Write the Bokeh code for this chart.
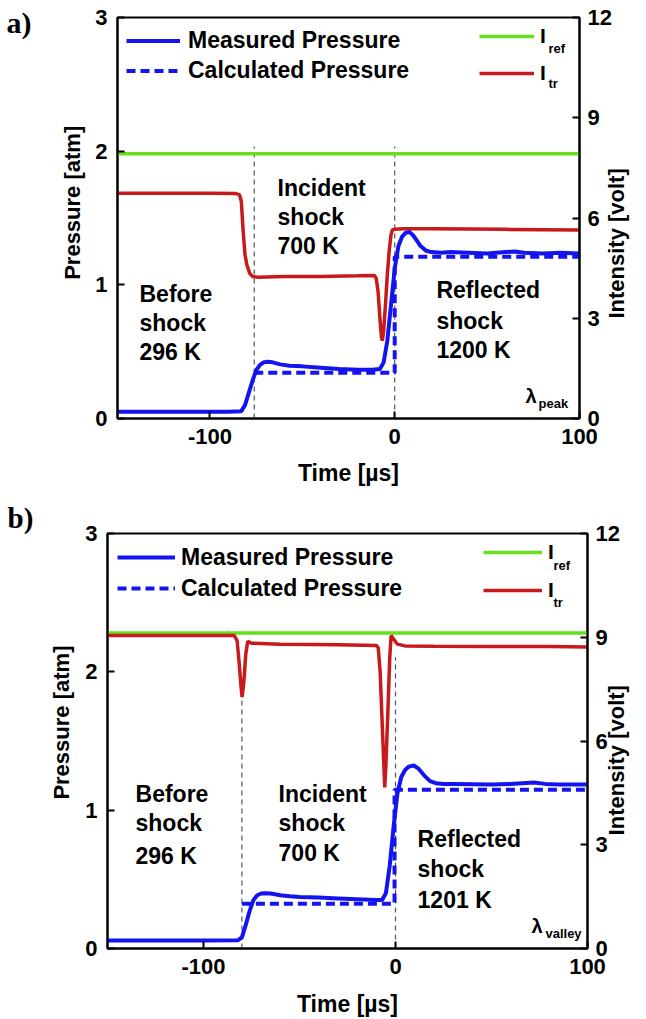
import math
from bokeh.plotting import figure
from bokeh.models import (Range1d, LinearAxis, FixedTicker, Label, Legend, LegendItem)
from bokeh.layouts import column
from bokeh.embed import file_html
from bokeh.resources import INLINE

FONT = "Liberation Sans"
SERIF = "Liberation Serif"
BLUE = "#1414f0"
RED = "#c81a1a"
GREEN = "#66e01e"

# ---------------- Panel a data ----------------
a_meas_t = [-150, -120, -90, -83, -81, -79, -77, -75, -73, -71, -69, -66, -62, -57, -50, -40,
            -30, -20, -12, -8, -6, -4, -2, 0, 2, 4, 6, 8, 10, 12, 14, 17, 20, 25, 30, 40, 50,
            60, 65, 70, 80, 90, 100]
a_meas_p = [0.05, 0.05, 0.05, 0.055, 0.10, 0.19, 0.28, 0.36, 0.40, 0.42, 0.425, 0.42, 0.405,
            0.395, 0.39, 0.38, 0.37, 0.365, 0.365, 0.37, 0.42, 0.58, 0.85, 1.12, 1.29, 1.36,
            1.39, 1.395, 1.37, 1.33, 1.29, 1.255, 1.245, 1.24, 1.245, 1.24, 1.235, 1.245, 1.25,
            1.24, 1.235, 1.24, 1.235]
a_calc_t = [-76, 0, 0, 100]
a_calc_p = [0.342, 0.342, 1.21, 1.21]
a_tr_t = [-150, -120, -100, -86, -84, -83, -82, -81, -80, -78.5, -77, -74, -60, -40, -20, -11,
          -10, -9, -8, -7.2, -6.7, -6, -5, -4, -3, -2, -1.2, 0, 5, 20, 40, 60, 80, 100]
a_tr_v = [6.74, 6.74, 6.74, 6.73, 6.70, 6.50, 5.6, 4.9, 4.6, 4.35, 4.25, 4.23, 4.25, 4.25, 4.27,
          4.28, 4.2, 3.8, 3.0, 2.45, 2.33, 2.6, 3.4, 4.3, 5.0, 5.5, 5.65, 5.66, 5.68, 5.68,
          5.67, 5.66, 5.65, 5.64]
a_ref_t = [-150, -50, 50, 100]
a_ref_v = [7.92, 7.92, 7.92, 7.92]
a_shock_t = [-76, 0]
a_shock_top = [2.035, 2.035]

# ---------------- Panel b data ----------------
b_meas_t = [-150, -120, -100, -82, -80, -78, -76, -74, -72, -70, -68, -65, -60, -55, -50, -40,
            -30, -20, -10, -7, -5, -3, -1, 1, 3, 5, 7, 9.5, 12, 15, 18, 21, 25, 30, 40, 50, 60,
            66, 72, 78, 85, 100]
b_meas_p = [0.058, 0.058, 0.058, 0.06, 0.08, 0.17, 0.27, 0.35, 0.385, 0.398, 0.40, 0.398, 0.385,
            0.378, 0.372, 0.368, 0.362, 0.356, 0.35, 0.35, 0.40, 0.60, 0.88, 1.12, 1.24, 1.29,
            1.315, 1.323, 1.30, 1.25, 1.21, 1.195, 1.19, 1.19, 1.188, 1.185, 1.19, 1.195, 1.20,
            1.19, 1.185, 1.185]
b_calc_t = [-80, -0.5, -0.5, 100]
b_calc_p = [0.323, 0.323, 1.147, 1.147]
b_tr_t = [-150, -120, -100, -84, -82.5, -81.5, -80.5, -79.9, -79, -78, -77, -75, -60, -30, -10,
          -9, -8, -7, -6, -5.6, -5, -4, -3, -2.3, -1, 1, 5, 20, 50, 80, 100]
b_tr_v = [9.05, 9.05, 9.05, 9.05, 8.9, 8.3, 7.6, 7.27, 7.7, 8.5, 8.88, 8.83, 8.8, 8.78, 8.76,
          8.7, 8.0, 6.6, 5.2, 4.66, 5.3, 6.8, 8.4, 9.05, 8.95, 8.8, 8.75, 8.74, 8.73, 8.73, 8.72]
b_ref_t = [-150, -50, 50, 100]
b_ref_v = [9.12, 9.12, 9.12, 9.12]
b_shock_t = [-80, 0]
b_shock_top = [1.80, 2.106]

x_ticks = [-100, 0, 100]
x_tick_labels = {-100: "-100", 0: "0", 100: "100"}
p_ticks = [0, 1, 2, 3]
i_ticks = [0, 3, 6, 9, 12]


def style_axis(ax, ticks, standoff, size="22px", font=FONT, minor=None):
    ax.ticker = FixedTicker(ticks=ticks, minor_ticks=minor or [])
    ax.major_tick_in = 7
    ax.major_tick_out = 0
    ax.minor_tick_in = 7
    ax.minor_tick_out = 0
    ax.minor_tick_line_width = 2
    ax.minor_tick_line_color = "black" if minor else None
    ax.axis_line_width = 2
    ax.axis_line_color = "black"
    ax.major_tick_line_width = 2
    ax.major_tick_line_color = "black"
    ax.major_label_text_font = font
    ax.major_label_text_font_style = "bold"
    ax.major_label_text_font_size = size
    ax.major_label_text_color = "black"
    ax.major_label_standoff = standoff
    ax.axis_label_text_font = FONT
    ax.axis_label_text_font_style = "bold"
    ax.axis_label_text_font_size = "23px"
    ax.axis_label_text_color = "black"


def text_axis(p, side, pos, text, standoff, rotate=True, size="22px", font=FONT):
    """An axis without line or tick that carries one text at a chosen place."""
    ax = LinearAxis()
    style_axis(ax, [pos], standoff, size=size, font=font)
    ax.major_label_overrides = {pos: text}
    if rotate:
        ax.major_label_orientation = math.pi / 2
    ax.axis_line_color = None
    ax.major_tick_line_color = None
    p.add_layout(ax, side)


def add_label(p, x, y, text, size="23px", font=FONT, align="left", baseline="middle"):
    p.add_layout(Label(x=x, y=y, text=text, text_font=font, text_font_size=size,
                       text_font_style="bold", text_align=align, text_baseline=baseline,
                       text_color="black"))


def make_panel(cfg):
    p = figure(width=646, height=cfg["height"], x_range=Range1d(-150, 100),
               y_range=Range1d(0, 3), output_backend="svg", toolbar_location=None,
               min_border_left=cfg["bl"], min_border_right=cfg["br"],
               min_border_top=cfg["bt"], min_border_bottom=cfg["bb"])
    if "frame_align" in p.properties():
        p.frame_align = False
    p.extra_y_ranges = {"int": Range1d(0, 12)}
    p.xgrid.visible = False
    p.ygrid.visible = False
    p.outline_line_color = "black"
    p.outline_line_width = 2
    p.background_fill_color = "white"
    p.border_fill_color = "white"

    style_axis(p.xaxis[0], x_ticks, 10)
    p.xaxis[0].major_label_overrides = x_tick_labels
    p.xaxis[0].axis_label = "Time [µs]"
    p.xaxis[0].axis_label_standoff = cfg["time_standoff"]
    style_axis(p.yaxis[0], p_ticks, 10)
    text_axis(p, "left", cfg["p_label_y"], "Pressure [atm]", cfg["p_standoff"])

    # right side: inner axis = line + tick marks + rotated title; outer axis = numbers only
    r_in = LinearAxis(y_range_name="int")
    style_axis(r_in, [cfg["i_label_pos"]], cfg["i_standoff"], minor=i_ticks)
    r_in.major_tick_line_color = None
    r_in.major_label_overrides = {cfg["i_label_pos"]: "Intensity [volt]"}
    r_in.major_label_orientation = math.pi / 2
    p.add_layout(r_in, "right")
    r_out = LinearAxis(y_range_name="int")
    style_axis(r_out, i_ticks, cfg["i_num_standoff"])
    r_out.axis_line_color = None
    r_out.major_tick_line_color = None
    p.add_layout(r_out, "right")

    # vertical shock-arrival markers
    p.segment(x0=cfg["shock_t"], y0=[0] * len(cfg["shock_t"]), x1=cfg["shock_t"],
              y1=cfg["shock_top"], line_color="#555555", line_width=1.2, line_dash="5 4")

    r_ref = p.line(x=cfg["ref_t"], y=cfg["ref_v"], y_range_name="int", line_color=GREEN,
                   line_width=3.5)
    r_tr = p.line(x=cfg["tr_t"], y=cfg["tr_v"], y_range_name="int", line_color=RED,
                  line_width=3.5)
    r_calc = p.line(x=cfg["calc_t"], y=cfg["calc_p"], line_color=BLUE, line_width=4,
                    line_dash="9 5")
    r_meas = p.line(x=cfg["meas_t"], y=cfg["meas_p"], line_color=BLUE, line_width=4)

    common = dict(padding=0, margin=0, border_line_color=None, background_fill_alpha=0,
                  label_text_font=FONT, label_text_font_style="bold", label_text_color="black")
    lg = cfg["leg_left"]
    p.add_layout(Legend(items=[LegendItem(label="Measured Pressure", renderers=[r_meas]),
                               LegendItem(label="Calculated Pressure", renderers=[r_calc])],
                        location=lg["loc"], glyph_width=lg["gw"], glyph_height=lg["gh"],
                        label_height=lg["gh"], label_standoff=lg["ls"], spacing=lg["sp"],
                        label_text_font_size="23px", **common))
    lr = cfg["leg_right"]
    p.add_layout(Legend(items=[LegendItem(label="I", renderers=[r_ref]),
                               LegendItem(label="I", renderers=[r_tr])],
                        location=lr["loc"], glyph_width=lr["gw"], glyph_height=lr["gh"],
                        label_height=lr["gh"], label_standoff=lr["ls"], spacing=lr["sp"],
                        label_text_font_size="21px", **common))
    for (x, y, t) in cfg["subs"]:
        add_label(p, x, y, t, size="13px")

    for (x, ys, lines) in cfg["regions"]:
        for y, t in zip(ys, lines):
            add_label(p, x, y, t)

    lx, ly, lsub_x, lsub_y, lsub = cfg["lam"]
    add_label(p, lx, ly, "λ", size="20px")
    add_label(p, lsub_x, lsub_y, lsub, size="13px")

    # panel letter
    if cfg["letter_mode"] == "axis":
        text_axis(p, "left", cfg["letter_y"], cfg["panel"], cfg["letter_standoff"],
                  rotate=False, size="30px", font=SERIF)
    else:
        p.title.text = cfg["panel"]
        p.title.text_font = SERIF
        p.title.text_font_size = "29px"
        p.title.text_font_style = "bold"
        p.title.text_color = "black"
        p.title.align = "left"
        p.title.offset = cfg["letter_offset"]
        p.title.standoff = 0
    return p


cfg_a = dict(
    height=495, bl=117, br=67, bt=17, bb=77, time_standoff=13,
    p_label_y=2.19, p_standoff=20,
    i_label_pos=2.99, i_standoff=37, i_num_standoff=-57,
    meas_t=a_meas_t, meas_p=a_meas_p, calc_t=a_calc_t, calc_p=a_calc_p,
    tr_t=a_tr_t, tr_v=a_tr_v, ref_t=a_ref_t, ref_v=a_ref_v,
    shock_t=a_shock_t, shock_top=a_shock_top,
    leg_left=dict(loc=(9, 334), gw=54, gh=27, ls=8, sp=3),
    leg_right=dict(loc=(362, 330), gw=55, gh=30, ls=6, sp=7),
    subs=[(83.2, 2.77, "ref"), (83.2, 2.506, "tr")],
    regions=[(-138.1, [0.935, 0.711, 0.494], ["Before", "shock", "296 K"]),
             (-63.4, [1.728, 1.511, 1.294], ["Incident", "shock", "700 K"]),
             (22.6, [0.958, 0.733, 0.516], ["Reflected", "shock", "1200 K"])],
    lam=(70.8, 0.172, 77.8, 0.112, "peak"),
    panel="a)", letter_mode="axis", letter_y=2.966, letter_standoff=13,
)

cfg_b = dict(
    height=524, bl=107, br=59, bt=38, bb=71, time_standoff=14,
    p_label_y=2.19, p_standoff=21,
    i_label_pos=3.27, i_standoff=29, i_num_standoff=-49,
    meas_t=b_meas_t, meas_p=b_meas_p, calc_t=b_calc_t, calc_p=b_calc_p,
    tr_t=b_tr_t, tr_v=b_tr_v, ref_t=b_ref_t, ref_v=b_ref_v,
    shock_t=b_shock_t, shock_top=b_shock_top,
    leg_left=dict(loc=(10, 346), gw=58, gh=28, ls=6, sp=3),
    leg_right=dict(loc=(376, 343), gw=59, gh=30, ls=6, sp=8),
    subs=[(82.3, 2.769, "ref"), (82.3, 2.501, "tr")],
    regions=[(-135.4, [1.120, 0.904, 0.672], ["Before", "shock", "296 K"]),
             (-60.9, [1.120, 0.904, 0.687], ["Incident", "shock", "700 K"]),
             (11.5, [0.795, 0.578, 0.347], ["Reflected", "shock", "1201 K"])],
    lam=(70.8, 0.166, 78.1, 0.108, "valley"),
    panel="b)", letter_mode="title", letter_offset=-100,
)

pa = make_panel(cfg_a)
pb = make_panel(cfg_b)
layout = column(pa, pb, spacing=0)

open("out.html", "w").write(file_html(layout, INLINE))
